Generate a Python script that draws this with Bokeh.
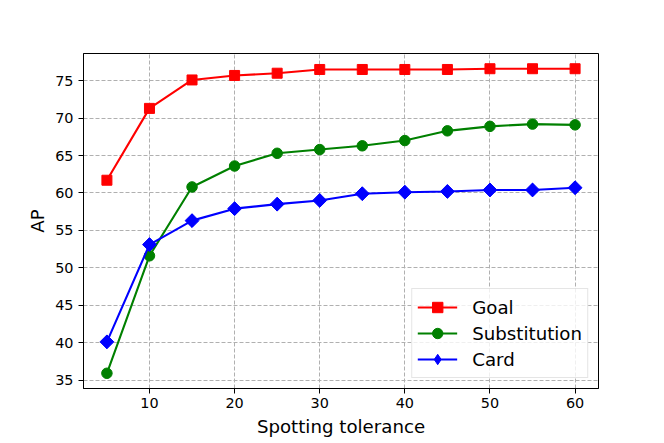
from bokeh.plotting import figure
from bokeh.models import Range1d, FixedTicker, Legend, LegendItem
from bokeh.embed import file_html
from bokeh.resources import INLINE
import math

tolerance = [5, 10, 15, 20, 25, 30, 35, 40, 45, 50, 55, 60]
goal = [61.7, 71.3, 75.1, 75.7, 76.0, 76.5, 76.5, 76.5, 76.5, 76.6, 76.6, 76.6]
substitution = [35.9, 51.6, 60.8, 63.6, 65.3, 65.8, 66.3, 67.0, 68.3, 68.9, 69.2, 69.1]
card = [40.1, 53.1, 56.3, 57.9, 58.5, 59.0, 59.9, 60.1, 60.2, 60.4, 60.4, 60.7]
x_ticks = [10, 20, 30, 40, 50, 60]
y_ticks = [35, 40, 45, 50, 55, 60, 65, 70, 75]

FONT = "DejaVu Sans"

p = figure(frame_width=515, frame_height=335, output_backend="svg", toolbar_location=None,
           x_range=Range1d(2.25, 62.75), y_range=Range1d(33.865, 78.635),
           min_border_left=83, min_border_right=58, min_border_top=53, min_border_bottom=47)

p.outline_line_color = "black"
p.outline_line_width = 1
p.background_fill_color = "white"

for ax in (p.xaxis[0], p.yaxis[0]):
    ax.axis_line_color = "black"
    ax.major_tick_line_color = "black"
    ax.major_tick_out = 5
    ax.major_tick_in = 0
    ax.minor_tick_line_color = None
    ax.major_label_text_font = FONT
    ax.major_label_text_font_size = "14.4px"
    ax.major_label_text_color = "black"
    ax.axis_label_text_font = FONT
    ax.axis_label_text_font_size = "18.2px"
    ax.axis_label_text_font_style = "normal"
    ax.axis_label_text_color = "black"

p.xaxis.ticker = FixedTicker(ticks=x_ticks)
p.yaxis.ticker = FixedTicker(ticks=y_ticks)
p.xaxis.axis_label = "Spotting tolerance"
p.yaxis.axis_label = "AP"
p.yaxis.axis_label_standoff = 4
p.xaxis.major_label_standoff = 4
p.xaxis.axis_label_standoff = 5

for g in (p.xgrid[0], p.ygrid[0]):
    g.grid_line_color = "#b0b0b0"
    g.grid_line_dash = "4 2"
    g.grid_line_width = 1

items = []

l = p.line(tolerance, goal, line_color="red", line_width=2.1)
m = p.scatter(tolerance, goal, marker="square", size=10, fill_color="red", line_color="red")
items.append(LegendItem(label="Goal", renderers=[l, m]))

l = p.line(tolerance, substitution, line_color="green", line_width=2.1)
m = p.scatter(tolerance, substitution, marker="circle", size=10.5, fill_color="green", line_color="green")
items.append(LegendItem(label="Substitution", renderers=[l, m]))

l = p.line(tolerance, card, line_color="blue", line_width=2.1)
p.scatter(tolerance, card, marker="square", size=9.8, angle=math.pi / 4,
          fill_color="blue", line_color="blue")
d = p.scatter(tolerance, card, marker="diamond", size=13, fill_color="blue", line_color="blue")
items.append(LegendItem(label="Card", renderers=[l, d]))

legend = Legend(items=items, location="bottom_right")
legend.margin = 10
legend.padding = 5
legend.spacing = 0
legend.glyph_width = 40
legend.glyph_height = 26
legend.label_height = 26
legend.label_standoff = 15
legend.label_text_font = FONT
legend.label_text_font_size = "18.2px"
legend.label_text_color = "black"
legend.border_line_color = "#cccccc"
legend.border_line_width = 1
legend.background_fill_color = "white"
legend.background_fill_alpha = 0.8
p.add_layout(legend, "center")

open("out.html", "w").write(file_html(p, INLINE))
